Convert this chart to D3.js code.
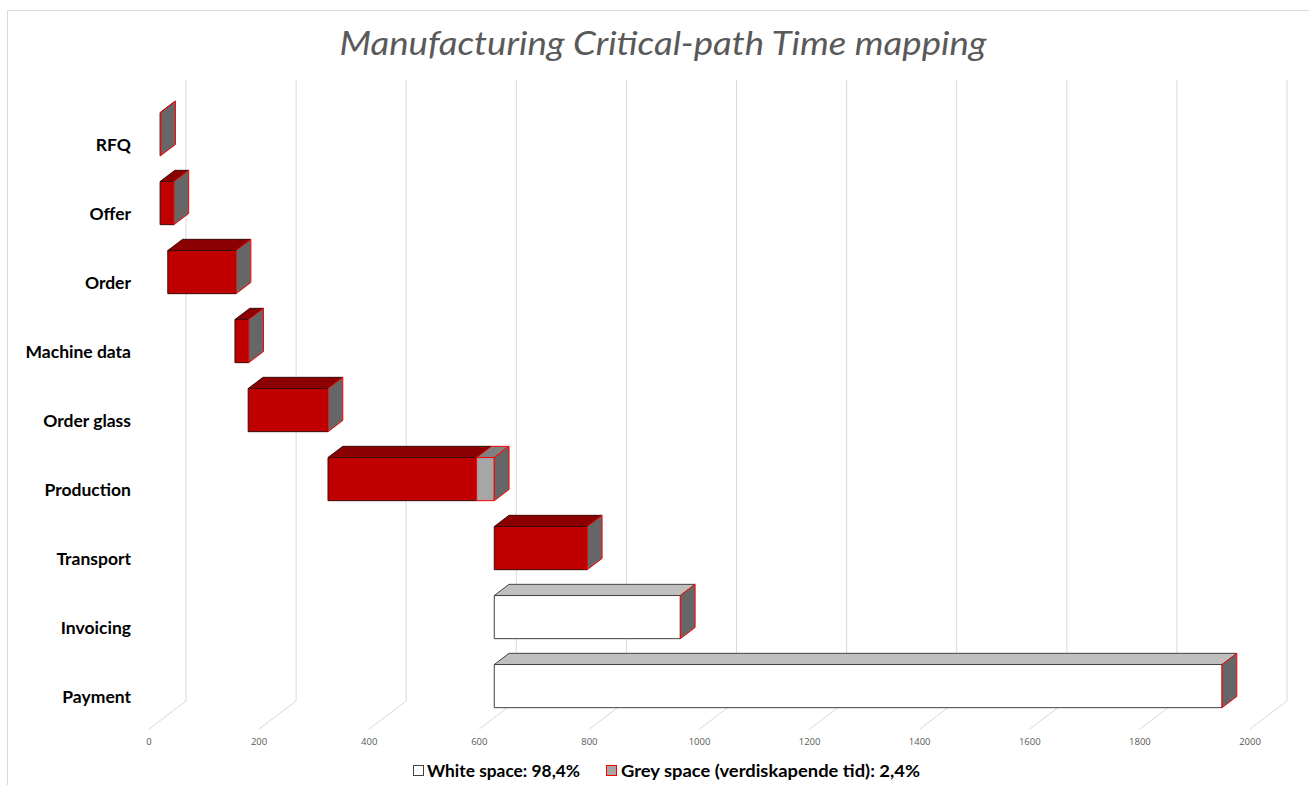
<!DOCTYPE html>
<html lang="en">
<head>
  <meta charset="UTF-8">
  <title>Manufacturing Critical-path Time mapping</title>
  <script src="https://d3js.org/d3.v7.min.js"></script>
  <style>
    body { margin: 0; background: #fff; }
    svg { display: block; }
    .cat { font-family: Lato, 'Open Sans', sans-serif; font-weight: bold; font-size: 17.5px; fill: #000; }
    .tick-label { font-family: 'Open Sans', sans-serif; font-size: 9.5px; fill: #595959; }
    .legend { font-family: Lato, 'Open Sans', sans-serif; font-weight: bold; font-size: 17.5px; fill: #000; }
  </style>
</head>
<body>
  <svg id="chart" width="1309" height="785"></svg>

  <script>
    // categories and stacked series (days)
    const categories = ["RFQ", "Offer", "Order", "Machine data", "Order glass", "Production", "Transport ", "Invoicing", "Payment"];
    const startOffset = [0, 0, 14, 136, 160, 305, 607, 607, 607];
    const redTime    = [1, 25, 124, 25, 145, 270, 169, 0, 0];
    const whiteTime  = [0, 0, 0, 0, 0, 0, 0, 338, 1322];
    const greyTime   = [0, 0, 0, 0, 0, 32, 0, 0, 0];
    const xTicks = [0, 200, 400, 600, 800, 1000, 1200, 1400, 1600, 1800, 2000];

    const svg = d3.select("#chart");

    // chart border
    svg.append("rect")
      .attr("x", 7.5).attr("y", 10.5)
      .attr("width", 1310).attr("height", 790)
      .attr("fill", "none")
      .attr("stroke", "#d9d9d9");

    svg.append("text")
      .attr("x", 663).attr("y", 55)
      .attr("text-anchor", "middle")
      .attr("textLength", 647)
      .attr("lengthAdjust", "spacingAndGlyphs")
      .style("font-family", "Lato, 'Open Sans', sans-serif")
      .style("font-style", "italic")
      .style("font-weight", 400)
      .style("font-size", "32px")
      .style("fill", "#595959")
      .text("Manufacturing Critical-path Time mapping");

    // front plane scales, depth goes up and to the right
    const x = d3.scaleLinear().domain([0, 2000]).range([149, 1250]);
    const y = d3.scaleBand().domain(categories).range([108, 729]);
    const depthX = 37, depthY = 28;
    const floorY = 729, wallTop = 80;

    const px = (v, z) => x(v) + z * depthX;
    const py = (yy, z) => yy - z * depthY;

    // back wall gridlines and floor lines
    const grid = svg.append("g");
    xTicks.forEach(t => {
      grid.append("line")
        .attr("x1", px(t, 1)).attr("x2", px(t, 1))
        .attr("y1", py(floorY, 1)).attr("y2", wallTop)
        .attr("stroke", "#d9d9d9");
      grid.append("line")
        .attr("x1", px(t, 0)).attr("y1", floorY)
        .attr("x2", px(t, 1)).attr("y2", py(floorY, 1))
        .attr("stroke", "#d9d9d9");
      grid.append("text")
        .attr("class", "tick-label")
        .attr("x", x(t)).attr("y", 745)
        .attr("text-anchor", "middle")
        .text(t);
    });

    // category labels
    svg.append("g").selectAll("text")
      .data(categories)
      .enter().append("text")
      .attr("class", "cat")
      .attr("x", 131)
      .attr("y", d => y(d) + y.bandwidth() / 2 + 2)
      .attr("dy", "0.35em")
      .attr("text-anchor", "end")
      .text(d => d);

    // 3D stacked bars
    const z0 = 0.3, z1 = 0.7;
    const faceH = y.bandwidth() * 0.625;
    const styles = {
      red:   { front: "#c00000", top: "#8b0000", stroke: "#3a0a0a" },
      white: { front: "#ffffff", top: "#bfbfbf", stroke: "#404040" },
      grey:  { front: "#a6a6a6", top: "#808080", side: "#666666", stroke: "#ff0000" }
    };
    const pts = arr => arr.map(p => p.join(",")).join(" ");

    const bars = svg.append("g");
    categories.forEach((c, i) => {
      const cy = y(c) + y.bandwidth() / 2;
      const yTop = cy - faceH / 2, yBot = cy + faceH / 2;
      const segs = [
        ["red", redTime[i]],
        ["white", whiteTime[i]],
        ["grey", greyTime[i]]
      ];
      let s = startOffset[i];
      segs.forEach(([key, v]) => {
        const e = s + v;
        if (v > 0) {
          const st = styles[key];
          bars.append("polygon")
            .attr("points", pts([[px(s, z0), py(yTop, z0)], [px(e, z0), py(yTop, z0)],
                                 [px(e, z1), py(yTop, z1)], [px(s, z1), py(yTop, z1)]]))
            .attr("fill", st.top).attr("stroke", st.stroke).attr("stroke-width", 1);
          bars.append("polygon")
            .attr("points", pts([[px(s, z0), py(yTop, z0)], [px(e, z0), py(yTop, z0)],
                                 [px(e, z0), py(yBot, z0)], [px(s, z0), py(yBot, z0)]]))
            .attr("fill", st.front).attr("stroke", st.stroke).attr("stroke-width", 1);
        }
        s = e;
      });
      // end face of the stack (grey series closes every bar)
      const g = styles.grey;
      bars.append("polygon")
        .attr("points", pts([[px(s, z0), py(yTop, z0)], [px(s, z1), py(yTop, z1)],
                             [px(s, z1), py(yBot, z1)], [px(s, z0), py(yBot, z0)]]))
        .attr("fill", g.side).attr("stroke", g.stroke).attr("stroke-width", 1);
    });

    // legend
    const legend = svg.append("g");
    legend.append("rect")
      .attr("x", 413.5).attr("y", 765.5).attr("width", 10).attr("height", 10)
      .attr("fill", "#fff").attr("stroke", "#404040");
    legend.append("text").attr("class", "legend")
      .attr("x", 427).attr("y", 771).attr("dy", "0.35em")
      .attr("textLength", 153).attr("lengthAdjust", "spacingAndGlyphs")
      .text("White space: 98,4%");
    legend.append("rect")
      .attr("x", 606.5).attr("y", 765.5).attr("width", 10).attr("height", 10)
      .attr("fill", "#a6a6a6").attr("stroke", "#ff0000");
    legend.append("text").attr("class", "legend")
      .attr("x", 621).attr("y", 771).attr("dy", "0.35em")
      .attr("textLength", 299).attr("lengthAdjust", "spacingAndGlyphs")
      .text("Grey space (verdiskapende tid): 2,4%");
  </script>
</body>
</html>
